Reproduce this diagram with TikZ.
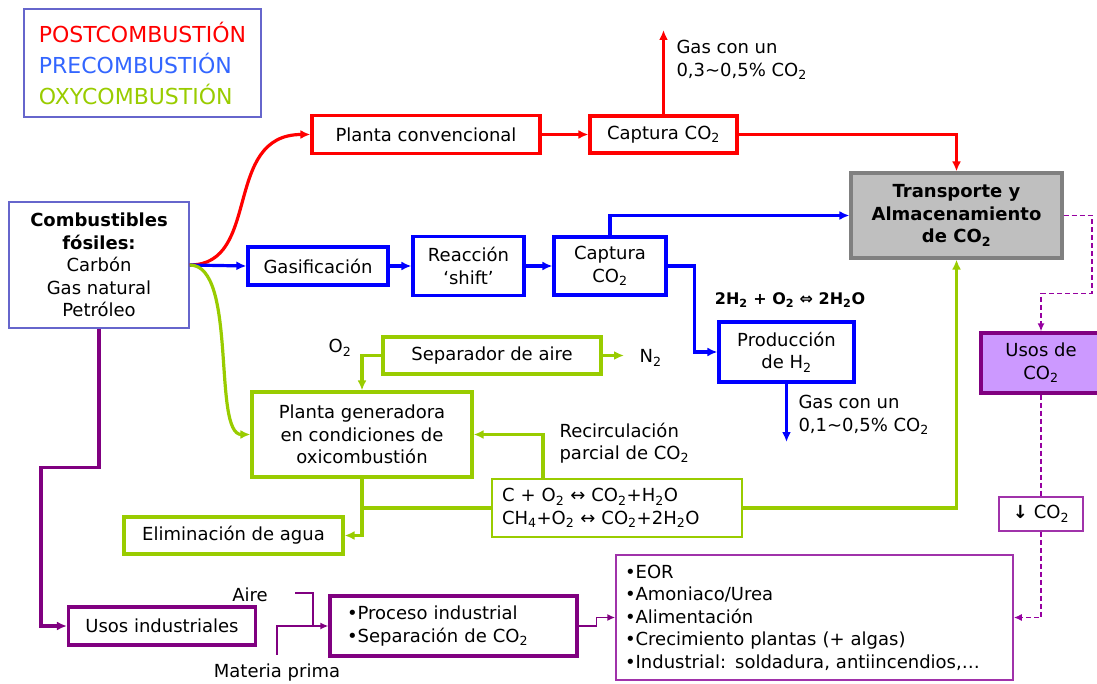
\documentclass[tikz,border=0pt]{standalone}
\usepackage{fontspec}
\setmainfont{DejaVu Sans}
\usetikzlibrary{arrows.meta}
\definecolor{postred}{RGB}{255,0,0}
\definecolor{preblue}{RGB}{0,0,255}
\definecolor{oxygreen}{RGB}{153,204,0}
\definecolor{usospurple}{RGB}{128,0,128}
\definecolor{thinpurple}{RGB}{160,50,170}
\definecolor{dashpurple}{RGB}{150,0,160}
\definecolor{usosfill}{RGB}{204,153,255}
\definecolor{legendblue}{RGB}{51,102,255}
\definecolor{framecol}{RGB}{102,102,204}
\newcommand{\cotwo}{CO\textsubscript{2}}
\begin{document}
\begin{tikzpicture}[x=1pt, y=-1pt, font=\fontsize{18}{22.5}\selectfont,
    box/.style 2 args={inner sep=0pt, align=center, minimum width=#1pt, minimum height=#2pt},
    postbox/.style={draw=postred, line width=3.2pt},
    prebox/.style={draw=preblue, line width=3.2pt},
    oxybox/.style={draw=oxygreen, line width=3.2pt},
    usobox/.style={draw=usospurple, line width=3.2pt},
    thinbox/.style={line width=1.5pt},
    arr/.style={-{Latex[length=10pt, width=9pt]}},
    sarr/.style={-{Latex[length=8pt, width=7pt]}},
    postline/.style={draw=postred, line width=3.2pt},
    preline/.style={draw=preblue, line width=3.2pt},
    oxyline/.style={draw=oxygreen, line width=3.2pt},
    usoline/.style={draw=usospurple, line width=3.2pt},
    thinline/.style={draw=usospurple, line width=1.6pt},
    dashline/.style={draw=dashpurple, line width=1.8pt, dash pattern=on 5pt off 3pt}]
    \useasboundingbox (0,0) rectangle (1097,684);
    \node[box={237}{108}, draw=framecol, thinbox, align=left, font=\fontsize{22}{31}\selectfont] (leyenda) at (142.5,63)
        {\textcolor{postred}{POSTCOMBUSTIÓN}\\ \textcolor{legendblue}{PRECOMBUSTIÓN}\\ \textcolor{oxygreen}{OXYCOMBUSTIÓN}};
    \node[box={180}{126}, draw=framecol, thinbox] (fosiles) at (99,265)
        {\textbf{Combustibles}\\ \textbf{fósiles:}\\ Carbón\\ Gas natural\\ Petróleo};
    \node[box={211}{85}, fill=black!25, draw=black!50, line width=3.2pt] (transp) at (956.5,215.5)
        {\textbf{Transporte y}\\ \textbf{Almacenamiento}\\ \textbf{de \cotwo}};
    % postcombustion
    \node[box={228}{38}, postbox] (planta) at (426,134.5) {Planta convencional};
    \node[box={147}{37}, postbox] (capred) at (663.5,134.5) {Captura \cotwo};
    \coordinate (salidapost) at (663.5,30);
    \node[anchor=west, align=left] (gaspost) at (673,60) {Gas con un\\ 0,3\textasciitilde 0,5\% \cotwo};
    \draw[postline, arr] (fosiles.east) .. controls (262,265) and (222,134.5) .. (planta.west);
    \draw[postline, arr] (planta.east) -- (capred.west);
    \draw[postline, arr] (capred.north) -- (salidapost);
    \draw[postline, arr] (capred.east) -| (transp.north);
    % precombustion
    \node[box={140}{38}, prebox] (gasif) at (318,266) {Gasificación};
    \node[box={111}{59}, prebox] (shift) at (468.5,266) {Reacción\\ ‘shift’};
    \node[box={112}{58}, prebox] (capblue) at (610,266) {Captura\\ \cotwo};
    \node[box={135}{60}, prebox] (prodh) at (786.5,352) {Producción\\ de H\textsubscript{2}};
    \node[font=\fontsize{16}{20}\selectfont\bfseries] (eqh) at (790,300) {2H\textsubscript{2} + O\textsubscript{2} ⇔ 2H\textsubscript{2}O};
    \coordinate (salidapre) at (786.5,442);
    \node[anchor=west, align=left] (gaspre) at (795,415) {Gas con un\\ 0,1\textasciitilde 0,5\% \cotwo};
    \draw[preline, arr] (fosiles.east) -- (gasif.west);
    \draw[preline, arr] (gasif.east) -- (shift.west);
    \draw[preline, arr] (shift.east) -- (capblue.west);
    \draw[preline, arr] (capblue.north) |- (transp.west);
    \draw[preline, arr] (capblue.east) -- ++(27,0) |- (prodh.west);
    \draw[preline, arr] (prodh.south) -- (salidapre);
    % oxycombustion
    \node[box={218}{37}, oxybox] (separ) at (492,355.5) {Separador de aire};
    \node (otwo) at (340,348) {O\textsubscript{2}};
    \node[anchor=west] (ntwo) at (636,358) {N\textsubscript{2}};
    \coordinate (salidaoxy) at (624,355.5);
    \node[box={220}{85}, oxybox] (gener) at (362,434.5) {Planta generadora\\ en condiciones de\\ oxicombustión};
    \node[box={250}{58}, draw=oxygreen, thinbox, text width=230pt, align=left] (reac) at (617,508)
        {C + O\textsubscript{2} ↔ \cotwo+H\textsubscript{2}O\\ CH\textsubscript{4}+O\textsubscript{2} ↔ \cotwo+2H\textsubscript{2}O};
    \node[anchor=west, align=left] (recirc) at (556,443) {Recirculación\\ parcial de \cotwo};
    \node[box={219}{37}, oxybox] (elim) at (233.5,535.5) {Eliminación de agua};
    \draw[oxyline, arr] (fosiles.east) .. controls (238,265) and (212,434.5) .. (gener.west);
    \draw[oxyline, arr] (separ.west) -| (gener.north);
    \draw[oxyline, arr] (separ.east) -- (salidaoxy);
    \draw[oxyline, arr] (reac.north) ++(-74,0) |- (gener.east);
    \draw[oxyline, arr] (gener.south) |- (elim.east);
    \draw[oxyline] (reac.west) -- (reac.west -| gener.south);
    \draw[oxyline, arr] (reac.east) -| (transp.south);
    % usos
    \node[box={120}{60}, usobox, fill=usosfill] (usosco) at (1041,363) {Usos de\\ \cotwo};
    \node[box={84}{34}, draw=thinpurple, thinbox] (downco) at (1041,514) {\textbf{↓} \cotwo};
    \node[box={397}{125}, draw=thinpurple, thinbox, text width=379pt, align=left] (lista) at (814.5,617.5)
        {•EOR\\ •Amoniaco/Urea\\ •Alimentación\\ •Crecimiento plantas (+ algas)\\ •Industrial: soldadura, antiincendios,…};
    \node[box={187}{38}, usobox] (usosind) at (162,626) {Usos industriales};
    \node[box={247}{60}, usobox, text width=213pt, align=left] (proceso) at (453.5,626)
        {•Proceso industrial\\ •Separación de \cotwo};
    \node (aire) at (250,595) {Aire};
    \node (materia) at (277,673) {Materia prima};
    \coordinate (junta) at (313,626);
    \draw[usoline, arr] (fosiles.south) -- ++(0,139) -- ++(-58,0) |- (usosind.west);
    \draw[dashline, sarr] (transp.east) -- ++(28,0) -- ++(0,78) -| (usosco.north);
    \draw[dashline] (usosco.south) -- (downco.north);
    \draw[dashline, sarr] (downco.south) |- (lista.east);
    \draw[thinline, sarr] (proceso.east) -- ++(18,0) |- (lista.west);
    \draw[thinline, sarr] (materia.north) ++(0,-6) |- (proceso.west);
    \draw[thinline] (aire.east) ++(24,-2) -| (junta);
\end{tikzpicture}
\end{document}
